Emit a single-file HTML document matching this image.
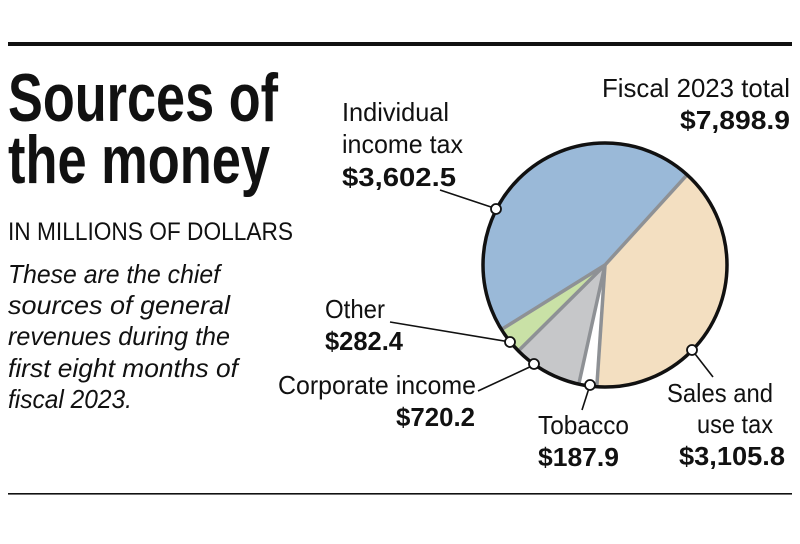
<!DOCTYPE html>
<html><head><meta charset="utf-8"><style>body{margin:0;background:#fff}svg{display:block}</style></head>
<body>
<svg width="800" height="544" viewBox="0 0 800 544" xmlns="http://www.w3.org/2000/svg" font-family="Liberation Sans, sans-serif">
<rect width="800" height="544" fill="#fff"/>
<rect x="8" y="42" width="784" height="4" fill="#111"/>
<rect x="8" y="493" width="784" height="1.6" fill="#111"/>
<g font-weight="bold" font-size="68" fill="#111">
<text x="8" y="121" textLength="270" lengthAdjust="spacingAndGlyphs">Sources of</text>
<text x="8" y="183" textLength="262" lengthAdjust="spacingAndGlyphs">the money</text>
</g>
<text x="8" y="240" font-size="25" textLength="285" lengthAdjust="spacingAndGlyphs" fill="#111">IN MILLIONS OF DOLLARS</text>
<g font-size="26" font-style="italic" fill="#111">
<text x="8" y="283" textLength="212" lengthAdjust="spacingAndGlyphs">These are the chief</text>
<text x="8" y="314" textLength="222" lengthAdjust="spacingAndGlyphs">sources of general</text>
<text x="8" y="345" textLength="222" lengthAdjust="spacingAndGlyphs">revenues during the</text>
<text x="8" y="377" textLength="230" lengthAdjust="spacingAndGlyphs">first eight months of</text>
<text x="8" y="408" textLength="124" lengthAdjust="spacingAndGlyphs">fiscal 2023.</text>
</g>
<g font-size="26" fill="#111">
<text x="602" y="97" textLength="188" lengthAdjust="spacingAndGlyphs">Fiscal 2023 total</text>
<text x="342" y="121" textLength="107" lengthAdjust="spacingAndGlyphs">Individual</text>
<text x="342" y="153" textLength="121" lengthAdjust="spacingAndGlyphs">income tax</text>
<text x="325" y="318" textLength="60" lengthAdjust="spacingAndGlyphs">Other</text>
<text x="278" y="394" textLength="198" lengthAdjust="spacingAndGlyphs">Corporate income</text>
<text x="538" y="434" textLength="91" lengthAdjust="spacingAndGlyphs">Tobacco</text>
<text x="667" y="402" textLength="106" lengthAdjust="spacingAndGlyphs">Sales and</text>
<text x="697" y="433" textLength="76" lengthAdjust="spacingAndGlyphs">use tax</text>
</g>
<g font-size="26" font-weight="bold" fill="#111">
<text x="680" y="129" textLength="110" lengthAdjust="spacingAndGlyphs">$7,898.9</text>
<text x="342" y="186" textLength="114" lengthAdjust="spacingAndGlyphs">$3,602.5</text>
<text x="325" y="350" textLength="78" lengthAdjust="spacingAndGlyphs">$282.4</text>
<text x="396" y="426" textLength="79" lengthAdjust="spacingAndGlyphs">$720.2</text>
<text x="538" y="466" textLength="81" lengthAdjust="spacingAndGlyphs">$187.9</text>
<text x="679" y="465" textLength="106" lengthAdjust="spacingAndGlyphs">$3,105.8</text>
</g>
<g>
<path d="M605,265 L687.1,174.8 A122,122 0 0 1 596.8,386.7 Z" fill="#f3dfc1"/>
<path d="M605,265 L596.8,386.7 A122,122 0 0 1 578.8,384.1 Z" fill="#ffffff"/>
<path d="M605,265 L578.8,384.1 A122,122 0 0 1 518.4,350.9 Z" fill="#c6c7c9"/>
<path d="M605,265 L518.4,350.9 A122,122 0 0 1 501.4,329.5 Z" fill="#c9e1a6"/>
<path d="M605,265 L501.4,329.5 A122,122 0 0 1 687.1,174.8 Z" fill="#9ab9d8"/>
<g stroke="#8e9195" stroke-width="3.5">
<line x1="605" y1="265" x2="687.1" y2="174.8"/>
<line x1="605" y1="265" x2="596.8" y2="386.7"/>
<line x1="605" y1="265" x2="578.8" y2="384.1"/>
<line x1="605" y1="265" x2="518.4" y2="350.9"/>
<line x1="605" y1="265" x2="501.4" y2="329.5"/>
</g>
<circle cx="605" cy="265" r="122" fill="none" stroke="#111" stroke-width="3.5"/>
</g>
<g stroke="#111" stroke-width="1.6">
<line x1="440" y1="190" x2="497" y2="209"/>
<line x1="390" y1="322" x2="510" y2="342"/>
<line x1="478" y1="391" x2="534" y2="365"/>
<line x1="582" y1="410" x2="590" y2="385"/>
<line x1="692" y1="350" x2="713" y2="377"/>
</g>
<g fill="#fff" stroke="#111" stroke-width="1.8">
<circle cx="496" cy="209" r="5"/>
<circle cx="510" cy="342" r="5"/>
<circle cx="534" cy="364" r="5"/>
<circle cx="590" cy="385" r="5"/>
<circle cx="692" cy="350" r="5"/>
</g>
</svg>
</body></html>
